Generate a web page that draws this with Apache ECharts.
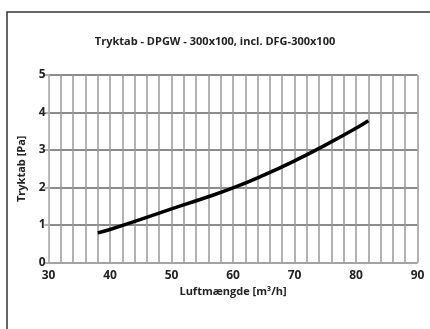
<!DOCTYPE html>
<html><head><meta charset="utf-8">
<script src="https://cdn.jsdelivr.net/npm/echarts@6/dist/echarts.min.js"></script>
<style>html,body{margin:0;padding:0;background:#fff}#c{width:430px;height:329px}</style>
</head><body><div id="c"></div>
<script>
const titleText = 'Tryktab - DPGW - 300x100, incl. DFG-300x100';
const xName = 'Luftmængde [m³/h]';
const yName = 'Tryktab [Pa]';
const airflow = [38, 40, 45, 50, 55, 60, 65, 70, 75, 80, 82];
const pressure = [0.79, 0.88, 1.15, 1.43, 1.70, 1.99, 2.33, 2.71, 3.13, 3.58, 3.78];
const xTicks = [30, 40, 50, 60, 70, 80, 90];
const yTicks = [0, 1, 2, 3, 4, 5];

const font = '"Open Sans", "DejaVu Sans", sans-serif';
const chart = echarts.init(document.getElementById('c'), null, {renderer: 'canvas'});
chart.setOption({
  animation: false,
  backgroundColor: '#fff',
  title: {
    text: titleText, left: 'center', top: 31,
    textStyle: {fontFamily: font, fontSize: 11, fontWeight: 'bold', color: '#222'}
  },
  graphic: [{
    type: 'rect', shape: {x: 7, y: 12, width: 440, height: 340},
    style: {fill: 'none', stroke: '#333', lineWidth: 1.5}, silent: true, z: -1
  }],
  grid: {left: 48.5, right: 12.5, top: 75, bottom: 66.5},
  xAxis: {
    type: 'value', min: 30, max: 90, interval: 2,
    name: xName, nameLocation: 'middle', nameGap: 21,
    nameTextStyle: {fontFamily: font, fontSize: 11, fontWeight: 'bold', color: '#222'},
    axisLine: {show: true, lineStyle: {color: '#aaa', width: 1.5}},
    axisTick: {show: false},
    axisLabel: {
      margin: 7, fontFamily: font, fontSize: 12, fontWeight: 'bold', color: '#222',
      formatter: v => (xTicks.indexOf(v) >= 0 ? String(v) : '')
    },
    splitLine: {show: true, lineStyle: {color: '#999', width: 1.5}}
  },
  yAxis: {
    type: 'value', min: 0, max: 5, interval: 1,
    name: yName, nameLocation: 'middle', nameGap: 21, nameRotate: 90,
    nameTextStyle: {fontFamily: font, fontSize: 11, fontWeight: 'bold', color: '#222'},
    axisLine: {show: true, lineStyle: {color: '#bbb', width: 1.5}},
    axisTick: {show: true, length: 4, lineStyle: {color: '#999', width: 1.5}},
    axisLabel: {
      margin: 3, fontFamily: font, fontSize: 12, fontWeight: 'bold', color: '#222',
      formatter: v => (yTicks.indexOf(v) >= 0 ? String(v) : '')
    },
    splitLine: {show: true, lineStyle: {color: '#666', width: 1.5}}
  },
  series: [{
    type: 'line', smooth: true, symbol: 'none',
    data: airflow.map((x, i) => [x, pressure[i]]),
    lineStyle: {color: '#000', width: 3.5}
  }]
});
</script></body></html>
